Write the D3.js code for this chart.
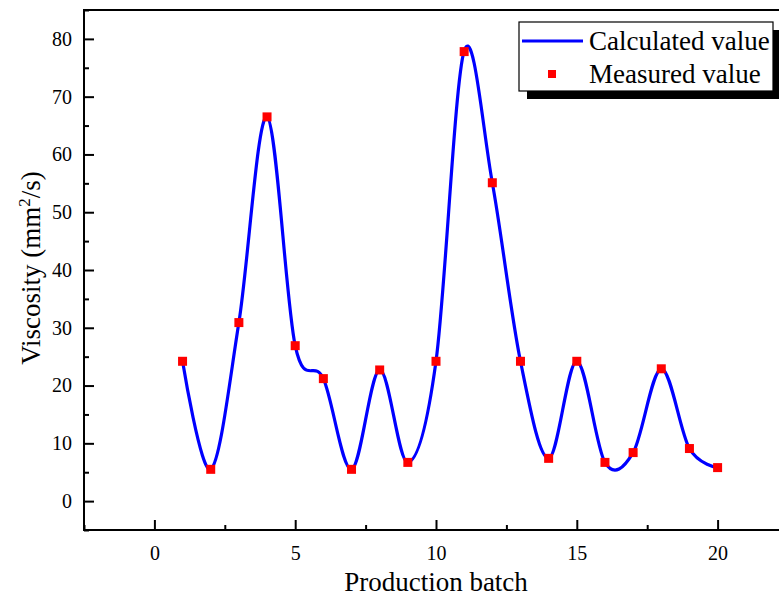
<!DOCTYPE html>
<html>
<head>
<meta charset="utf-8">
<script src="https://cdn.jsdelivr.net/npm/d3@7"></script>
<style>
  html, body { margin: 0; padding: 0; background: #fff; }
  svg { display: block; }
  text { font-family: "Liberation Serif", "Times New Roman", serif; fill: #000; }
</style>
</head>
<body>
<svg id="chart" width="779" height="597"></svg>
<script>
// Production batches and viscosity values (mm²/s)
const batches = [1, 2, 3, 4, 5, 6, 7, 8, 9, 10, 11, 12, 13, 14, 15, 16, 17, 18, 19, 20];
const measured = [24.2, 5.5, 30.9, 66.5, 26.9, 21.2, 5.5, 22.7, 6.7, 24.2, 77.8, 55.1, 24.2, 7.4, 24.2, 6.7, 8.4, 22.9, 9.1, 5.8];
const calculated = [24.2, 5.5, 30.9, 66.5, 26.9, 21.2, 5.5, 22.7, 6.7, 24.2, 77.9, 55.1, 24.2, 7.4, 24.2, 6.7, 8.4, 22.9, 9.1, 5.8];
const xTicks = [0, 5, 10, 15, 20];
const yTicks = [0, 10, 20, 30, 40, 50, 60, 70, 80];
const seriesNames = ["Calculated value", "Measured value"];

(function draw() {
  const svg = d3.select("#chart");
  const pl = 84, pr = 788, pt = 10, pb = 530;

  const x = d3.scaleLinear().domain([-2.5, 22.5]).range([pl, pr]);
  const y = d3.scaleLinear().domain([-5, 85]).range([pb, pt]);

  // Frame
  svg.append("rect")
    .attr("x", pl).attr("y", pt)
    .attr("width", pr - pl).attr("height", pb - pt)
    .attr("fill", "none").attr("stroke", "#000").attr("stroke-width", 2);

  // Axes with inward ticks
  const xMinor = d3.range(-2.5, 22.6, 5);
  const yMinor = d3.range(-5, 86, 10);

  const gx = svg.append("g").attr("transform", `translate(0,${pb})`);
  gx.call(d3.axisBottom(x).tickValues(xMinor).tickSize(-5).tickFormat(""));
  gx.append("g").call(d3.axisBottom(x).tickValues(xTicks).tickSize(-10).tickPadding(16).tickFormat(d3.format("d")));

  const gy = svg.append("g").attr("transform", `translate(${pl},0)`);
  gy.call(d3.axisLeft(y).tickValues(yMinor).tickSize(-5).tickFormat(""));
  gy.append("g").call(d3.axisLeft(y).tickValues(yTicks).tickSize(-10).tickPadding(12).tickFormat(d3.format("d")));

  svg.selectAll(".domain").remove();
  svg.selectAll(".tick line").attr("stroke", "#000").attr("stroke-width", 2);
  svg.selectAll(".tick text")
    .style("font-family", '"Liberation Serif", "Times New Roman", serif')
    .style("font-size", "20px").attr("fill", "#000");

  // Axis titles
  svg.append("text")
    .attr("x", 436).attr("y", 591)
    .attr("text-anchor", "middle").style("font-size", "27px")
    .text("Production batch");

  const yt = svg.append("text")
    .attr("transform", "translate(40,268) rotate(-90)")
    .attr("text-anchor", "middle").style("font-size", "27px");
  yt.append("tspan").text("Viscosity (mm");
  yt.append("tspan").attr("dy", -10).style("font-size", "17px").text("2");
  yt.append("tspan").attr("dy", 10).text("/s)");

  // Calculated curve (uniform Catmull-Rom spline)
  const line = d3.line()
    .x((d, i) => x(batches[i]))
    .y(d => y(d))
    .curve(d3.curveCardinal.tension(0));

  svg.append("path")
    .datum(calculated)
    .attr("d", line)
    .attr("fill", "none")
    .attr("stroke", "#0000ff")
    .attr("stroke-width", 3.2);

  // Measured points
  const ms = 9;
  svg.selectAll("rect.pt")
    .data(measured)
    .join("rect")
    .attr("class", "pt")
    .attr("x", (d, i) => x(batches[i]) - ms / 2)
    .attr("y", d => y(d) - ms / 2)
    .attr("width", ms).attr("height", ms)
    .attr("fill", "#ff0000");

  // Legend with drop shadow
  const lg = svg.append("g").attr("transform", "translate(519,22)");
  const lw = 254, lh = 69;
  lg.append("rect").attr("x", 8).attr("y", 8).attr("width", lw).attr("height", lh).attr("fill", "#000");
  lg.append("rect").attr("x", 0).attr("y", 0).attr("width", lw).attr("height", lh)
    .attr("fill", "#fff").attr("stroke", "#000").attr("stroke-width", 1.2);
  lg.append("line").attr("x1", 3).attr("x2", 64).attr("y1", 19).attr("y2", 19)
    .attr("stroke", "#0000ff").attr("stroke-width", 3.2);
  lg.append("rect").attr("x", 29).attr("y", 48).attr("width", 8).attr("height", 8).attr("fill", "#ff0000");
  lg.append("text").attr("x", 70).attr("y", 28).style("font-size", "27px").text(seriesNames[0]);
  lg.append("text").attr("x", 70).attr("y", 61).style("font-size", "27px").text(seriesNames[1]);
})();
</script>
</body>
</html>
